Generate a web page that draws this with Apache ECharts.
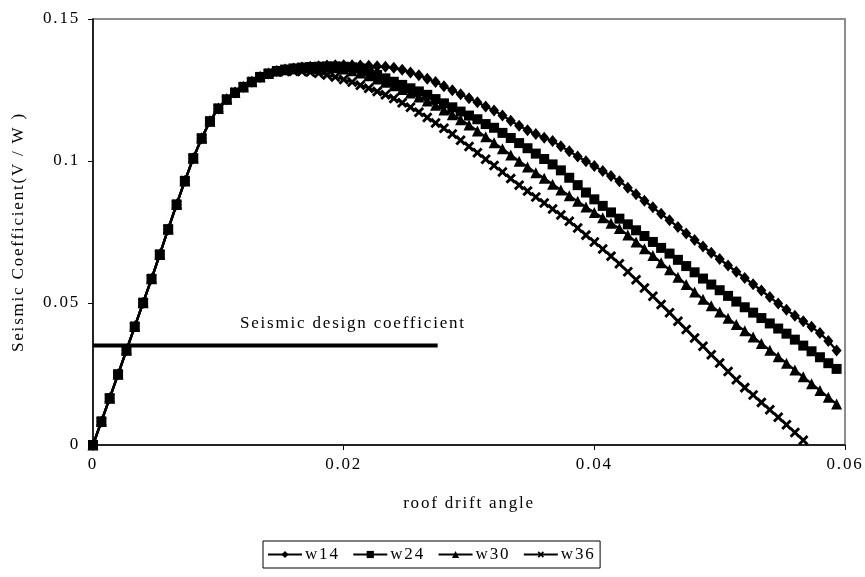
<!DOCTYPE html>
<html>
<head>
<meta charset="utf-8">
<script src="https://cdn.jsdelivr.net/npm/echarts@6/dist/echarts.min.js"></script>
<style>
  html, body { margin: 0; padding: 0; background: #fff; }
  #chart { width: 865px; height: 577px; }
</style>
</head>
<body>
<div id="chart"></div>
<script>
// Roof drift angle of each analysis step
const drift = [
  0, 0.00067, 0.00133, 0.002, 0.00267, 0.00333, 0.004, 0.00467, 0.00533, 0.006,
  0.00667, 0.00733, 0.008, 0.00867, 0.00933, 0.01, 0.01067, 0.01133, 0.012, 0.01267,
  0.01333, 0.014, 0.01467, 0.01533, 0.016, 0.01667, 0.01733, 0.018, 0.01867, 0.01933,
  0.02, 0.02067, 0.02133, 0.022, 0.02267, 0.02333, 0.024, 0.02467, 0.02533, 0.026,
  0.02667, 0.02733, 0.028, 0.02867, 0.02933, 0.03, 0.03067, 0.03133, 0.032, 0.03267,
  0.03333, 0.034, 0.03467, 0.03533, 0.036, 0.03667, 0.03733, 0.038, 0.03867, 0.03933,
  0.04, 0.04067, 0.04133, 0.042, 0.04267, 0.04333, 0.044, 0.04467, 0.04533, 0.046,
  0.04667, 0.04733, 0.048, 0.04867, 0.04933, 0.05, 0.05067, 0.05133, 0.052, 0.05267,
  0.05333, 0.054, 0.05467, 0.05533, 0.056, 0.05667, 0.05733, 0.058, 0.05867, 0.05933
];

// Elastic branch shared by all four models
const rising = [
  0, 0.0083, 0.0165, 0.0249, 0.0334, 0.0417, 0.0501, 0.0585, 0.0671, 0.076,
  0.0847, 0.093, 0.101, 0.108, 0.114, 0.1185, 0.1217, 0.1241, 0.1261, 0.1279,
  0.1296, 0.1308
];

const w14 = [
  0.1317, 0.1322, 0.1326, 0.1329, 0.1332, 0.1334, 0.1336, 0.1337, 0.1337, 0.1337,
  0.1336, 0.1335, 0.1334, 0.1332, 0.1328, 0.1321, 0.1312, 0.1302, 0.129, 0.1278,
  0.1263, 0.1249, 0.1235, 0.1221, 0.1207, 0.1192, 0.1178, 0.116, 0.1142, 0.1124,
  0.1108, 0.1095, 0.1082, 0.107, 0.1052, 0.1034, 0.1016, 0.0999, 0.0982, 0.0965,
  0.0947, 0.0929, 0.0906, 0.0883, 0.086, 0.0837, 0.0814, 0.0791, 0.0768, 0.0745,
  0.0722, 0.0699, 0.0677, 0.0655, 0.0632, 0.061, 0.0588, 0.0566, 0.0544, 0.0521,
  0.0498, 0.0476, 0.0455, 0.0436, 0.0416, 0.0394, 0.0366, 0.0333
];

const w24 = [
  0.1317, 0.1322, 0.1326, 0.1329, 0.1331, 0.1332, 0.1333, 0.1333, 0.1332, 0.133,
  0.1326, 0.1315, 0.1303, 0.1291, 0.1279, 0.1268, 0.1256, 0.1245, 0.1233, 0.1218,
  0.1203, 0.1189, 0.1174, 0.116, 0.1147, 0.113, 0.1117, 0.1099, 0.1081, 0.1063,
  0.1045, 0.1026, 0.1007, 0.0988, 0.0967, 0.0941, 0.0915, 0.0889, 0.0865, 0.0842,
  0.0819, 0.0797, 0.0777, 0.0756, 0.0736, 0.0715, 0.0694, 0.0674, 0.0652, 0.063,
  0.0608, 0.0586, 0.0565, 0.0545, 0.0525, 0.0505, 0.0485, 0.0466, 0.0447, 0.0428,
  0.041, 0.0392, 0.0371, 0.035, 0.033, 0.0309, 0.0288, 0.0268
];

const w30 = [
  0.1317, 0.1321, 0.1325, 0.1328, 0.133, 0.133, 0.133, 0.1328, 0.1324, 0.1318,
  0.131, 0.13, 0.1289, 0.1277, 0.1265, 0.1252, 0.1239, 0.1225, 0.1211, 0.1196,
  0.118, 0.1163, 0.1145, 0.1127, 0.1106, 0.1085, 0.1064, 0.1043, 0.1021, 0.0999,
  0.0979, 0.0959, 0.0939, 0.0918, 0.0898, 0.0878, 0.0858, 0.0838, 0.0819, 0.08,
  0.0781, 0.0762, 0.0739, 0.0715, 0.0691, 0.0667, 0.0642, 0.0617, 0.0591, 0.0565,
  0.0539, 0.0513, 0.049, 0.0468, 0.0446, 0.0424, 0.0402, 0.038, 0.0357, 0.0334,
  0.0311, 0.0288, 0.0264, 0.024, 0.0216, 0.0192, 0.0168, 0.0144
];

const w36 = [
  0.1313, 0.1315, 0.1316, 0.1315, 0.1313, 0.1309, 0.1303, 0.1296, 0.1287, 0.1278,
  0.1267, 0.1256, 0.1245, 0.1233, 0.122, 0.1205, 0.1189, 0.1172, 0.1153, 0.1134,
  0.1115, 0.1095, 0.1073, 0.1051, 0.1029, 0.1006, 0.0984, 0.0961, 0.0938, 0.0915,
  0.0894, 0.0873, 0.0852, 0.0831, 0.081, 0.0788, 0.0764, 0.0739, 0.0715, 0.069,
  0.0665, 0.0638, 0.061, 0.0582, 0.0553, 0.0524, 0.0495, 0.0466, 0.0436, 0.0407,
  0.0377, 0.0348, 0.0318, 0.0289, 0.0259, 0.023, 0.0202, 0.0176, 0.015, 0.0124,
  0.0098, 0.0071, 0.0044, 0.0017
];

// Design base shear coefficient and the drift range it is drawn over
const designCoef = 0.035;
const designSpan = [0, 0.0275];

const xTicks = [0, 0.02, 0.04, 0.06];
const yTicks = [0, 0.05, 0.1, 0.15];

const FONT = '"Liberation Serif", "DejaVu Serif", serif';
const FS = 17;

// Loose tracking for every text drawn on the canvas
(function () {
  const proto = window.CanvasRenderingContext2D && CanvasRenderingContext2D.prototype;
  if (!proto || !('letterSpacing' in proto)) return;
  const fill = proto.fillText;
  proto.fillText = function () {
    this.letterSpacing = '1.8px';
    const r = fill.apply(this, arguments);
    this.letterSpacing = '0px';
    return r;
  };
})();

function pairs(values) {
  const ys = rising.concat(values);
  return ys.map((y, i) => [drift[i], y]);
}

// Plus sign turned 45 degrees gives the "x" marker
const crossPath = 'path://M3.8,0H6.2V3.8H10V6.2H6.2V10H3.8V6.2H0V3.8H3.8Z';

function curve(name, values, symbol, size, rotate) {
  return {
    name: name,
    type: 'line',
    data: pairs(values),
    symbol: symbol,
    symbolSize: size,
    symbolRotate: rotate || 0,
    showAllSymbol: true,
    smooth: false,
    lineStyle: { color: '#000', width: 2.3 },
    itemStyle: { color: '#000', borderWidth: 0 },
    emphasis: { disabled: true },
    animation: false
  };
}

const chart = echarts.init(document.getElementById('chart'), null, { renderer: 'canvas' });

chart.setOption({
  backgroundColor: '#fff',
  animation: false,
  textStyle: { fontFamily: FONT },
  grid: {
    left: 93, right: 20, top: 19, bottom: 132,
    show: true, borderColor: '#8c8c8c', borderWidth: 2, backgroundColor: 'transparent'
  },
  xAxis: {
    type: 'value',
    min: xTicks[0], max: xTicks[xTicks.length - 1], interval: 0.02,
    name: 'roof drift angle',
    nameLocation: 'middle',
    nameGap: 50,
    nameTextStyle: { fontFamily: FONT, fontSize: FS, color: '#000' },
    axisLine: { show: true, onZero: false, lineStyle: { color: '#000', width: 1.5 } },
    axisTick: { show: true, inside: false, length: 5, lineStyle: { color: '#000' } },
    axisLabel: {
      fontFamily: FONT, fontSize: FS, color: '#000', margin: 11,
      formatter: v => (v === 0 ? '0' : v.toFixed(2))
    },
    splitLine: { show: false }
  },
  yAxis: {
    type: 'value',
    min: yTicks[0], max: yTicks[yTicks.length - 1], interval: 0.05,
    name: 'Seismic Coefficient(V / W )',
    nameLocation: 'middle',
    nameGap: 66,
    nameTextStyle: { fontFamily: FONT, fontSize: FS, color: '#000' },
    axisLine: { show: true, lineStyle: { color: '#000', width: 1.5 } },
    axisTick: { show: true, inside: false, length: 5, lineStyle: { color: '#000' } },
    axisLabel: {
      fontFamily: FONT, fontSize: FS, color: '#000', margin: 13,
      formatter: v => (v === 0 ? '0' : String(+v.toFixed(2)))
    },
    splitLine: { show: false }
  },
  legend: {
    left: 263, top: 541,
    itemWidth: 34, itemHeight: 9, itemGap: 18,
    padding: [5, 10, 5, 4],
    borderColor: '#000', borderWidth: 1,
    textStyle: { fontFamily: FONT, fontSize: FS, color: '#000', padding: [0, 0, 0, -2] },
    data: ['w14', 'w24', 'w30', 'w36']
  },
  graphic: [{
    type: 'text',
    left: 240, top: 315,
    style: {
      text: 'Seismic design coefficient',
      font: FS + 'px ' + FONT,
      fill: '#000'
    }
  }],
  series: [
    curve('w14', w14, 'diamond', [10, 12]),
    curve('w24', w24, 'rect', 10),
    curve('w30', w30, 'triangle', 11),
    curve('w36', w36, crossPath, 12, 45),
    {
      name: 'design',
      type: 'line',
      data: [[designSpan[0], designCoef], [designSpan[1], designCoef]],
      symbol: 'none',
      lineStyle: { color: '#000', width: 4 },
      emphasis: { disabled: true },
      animation: false,
      z: 1
    }
  ]
});
</script>
</body>
</html>
